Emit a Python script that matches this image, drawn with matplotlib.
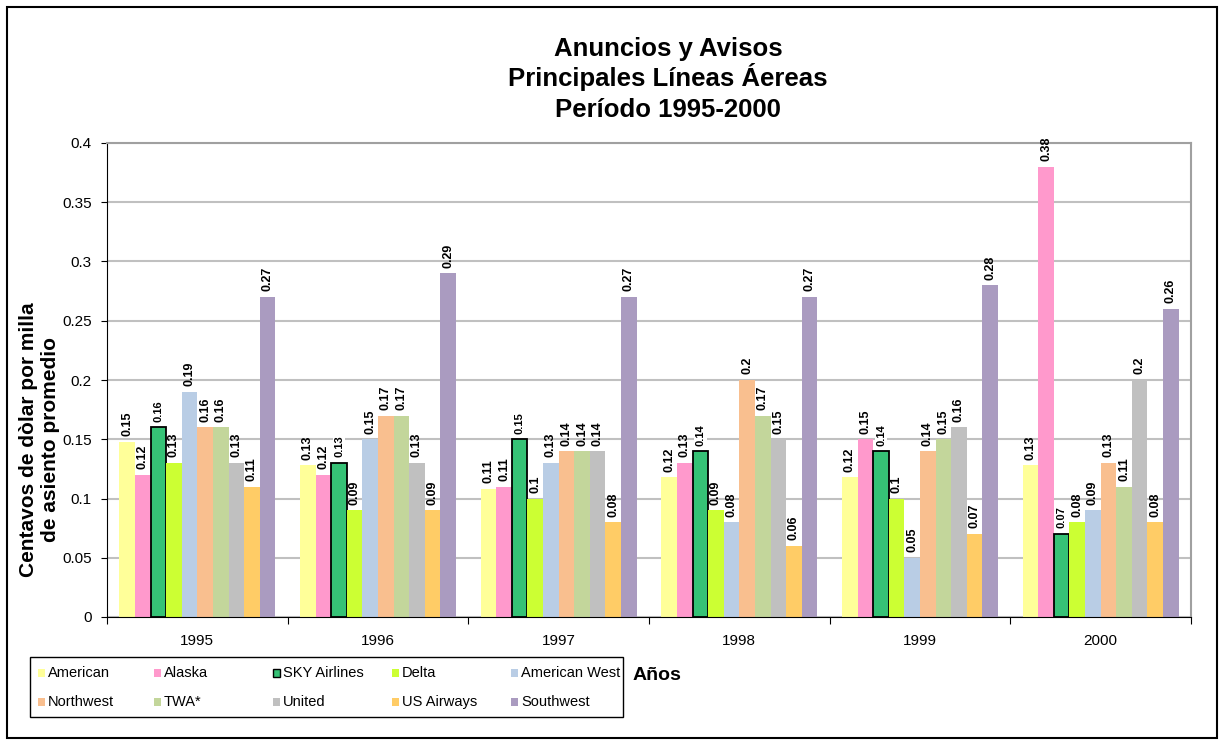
import matplotlib.pyplot as plt
from matplotlib.patches import Rectangle
import numpy as np

plt.rcParams['font.family'] = ['Liberation Sans', 'DejaVu Sans']

years = ['1995', '1996', '1997', '1998', '1999', '2000']

american = [0.148, 0.128, 0.108, 0.118, 0.118, 0.128]
alaska = [0.12, 0.12, 0.11, 0.13, 0.15, 0.38]
sky = [0.16, 0.13, 0.15, 0.14, 0.14, 0.07]
delta = [0.13, 0.09, 0.10, 0.09, 0.10, 0.08]
am_west = [0.19, 0.15, 0.13, 0.08, 0.05, 0.09]
northwest = [0.16, 0.17, 0.14, 0.20, 0.14, 0.13]
twa = [0.16, 0.17, 0.14, 0.17, 0.15, 0.11]
united = [0.13, 0.13, 0.14, 0.15, 0.16, 0.20]
us_airways = [0.11, 0.09, 0.08, 0.06, 0.07, 0.08]
southwest = [0.27, 0.29, 0.27, 0.27, 0.28, 0.26]

names = ['American', 'Alaska', 'SKY Airlines', 'Delta', 'American West',
         'Northwest', 'TWA*', 'United', 'US Airways', 'Southwest']
series = [american, alaska, sky, delta, am_west,
          northwest, twa, united, us_airways, southwest]
colors = ['#ffff99', '#ff99cc', '#36c276', '#ccff33', '#b9cde5',
          '#f9bf8f', '#c3d69b', '#c0c0c0', '#ffcc66', '#aa9bc0']

title_lines = ['Anuncios y Avisos', 'Principales Líneas Áereas', 'Período 1995-2000']

W, H = 1224, 745
def fx(px):
    return px / W
def fy(py):
    return 1 - py / H

fig = plt.figure(figsize=(W / 100, H / 100), dpi=100)
ax = fig.add_axes([fx(107), fy(617), (1191 - 107) / W, (617 - 143) / H])

n = len(series)
width = 0.0863
x = np.arange(len(years)) + 0.5
for j, (name, vals, col) in enumerate(zip(names, series, colors)):
    pos = x + (j - (n - 1) / 2) * width
    is_sky = name == 'SKY Airlines'
    bars = ax.bar(pos, vals, width, color=col,
                  edgecolor='black' if is_sky else 'none',
                  linewidth=1.3 if is_sky else 0, zorder=2)
    for b, v in zip(bars, vals):
        kw = {}
        if is_sky:
            kw['bbox'] = dict(facecolor='white', edgecolor='none', pad=1)
        ax.annotate(f"{round(v, 2):g}", (b.get_x() + b.get_width() / 2, b.get_height()),
                    xytext=(0, 4), textcoords='offset points', rotation=90,
                    ha='center', va='bottom', fontsize=8 if is_sky else 9,
                    fontweight='bold', zorder=3, **kw)

ax.set_xlim(0, 6)
ax.set_ylim(0, 0.4)
yt = np.arange(0, 0.401, 0.05)
ax.set_yticks(yt)
ax.set_yticklabels([f"{t:g}" for t in yt])
ax.set_xticks(range(7))
ax.set_xticklabels([])
ax.set_xticks(x, minor=True)
ax.set_xticklabels(years, minor=True)
ax.tick_params(axis='x', which='minor', length=0, pad=12, labelsize=11)
ax.tick_params(axis='x', which='major', length=5, direction='out')
ax.tick_params(axis='y', length=4, labelsize=11, pad=7)
ax.yaxis.grid(True, color='#c0c0c0', lw=1.5)
ax.set_axisbelow(True)
for s in ['top', 'right']:
    ax.spines[s].set_color('#a0a0a0')
    ax.spines[s].set_linewidth(1.5)

# title, one line at a time so spacing stays even
for line, py in zip(title_lines, [56, 86, 117]):
    fig.text(fx(668), fy(py), line, ha='center', va='baseline',
             fontsize=18.5, fontweight='bold')
fig.text(fx(40), fy(440), "Centavos de dòlar por milla\nde asiento promedio",
         rotation=90, ha='center', va='center', fontsize=15, fontweight='bold',
         multialignment='center')
fig.text(fx(633), fy(675), 'Años', ha='left', va='center', fontsize=14, fontweight='bold')

# legend, drawn row by row like the original
fig.add_artist(Rectangle((fx(30), fy(717)), (623 - 30) / W, 60 / H,
                         transform=fig.transFigure, fill=False, ec='black', lw=1))
row_y = [673, 702]
col_x = [38, 154, 273, 392, 511]
for k, (name, col) in enumerate(zip(names, colors)):
    r, c = k // 5, k % 5
    ec = 'black' if name == 'SKY Airlines' else 'none'
    fig.add_artist(Rectangle((fx(col_x[c]), fy(row_y[r] + 4)), 7 / W, 8 / H,
                             transform=fig.transFigure, fc=col, ec=ec, lw=1))
    fig.text(fx(col_x[c] + 10), fy(row_y[r]), name, ha='left', va='center', fontsize=10.5)

# outer border
fig.add_artist(Rectangle((fx(7), fy(738)), (1217 - 7) / W, (738 - 7) / H,
                         transform=fig.transFigure, fill=False, ec='black', lw=1.5))

fig.savefig('out.png', dpi=100)
